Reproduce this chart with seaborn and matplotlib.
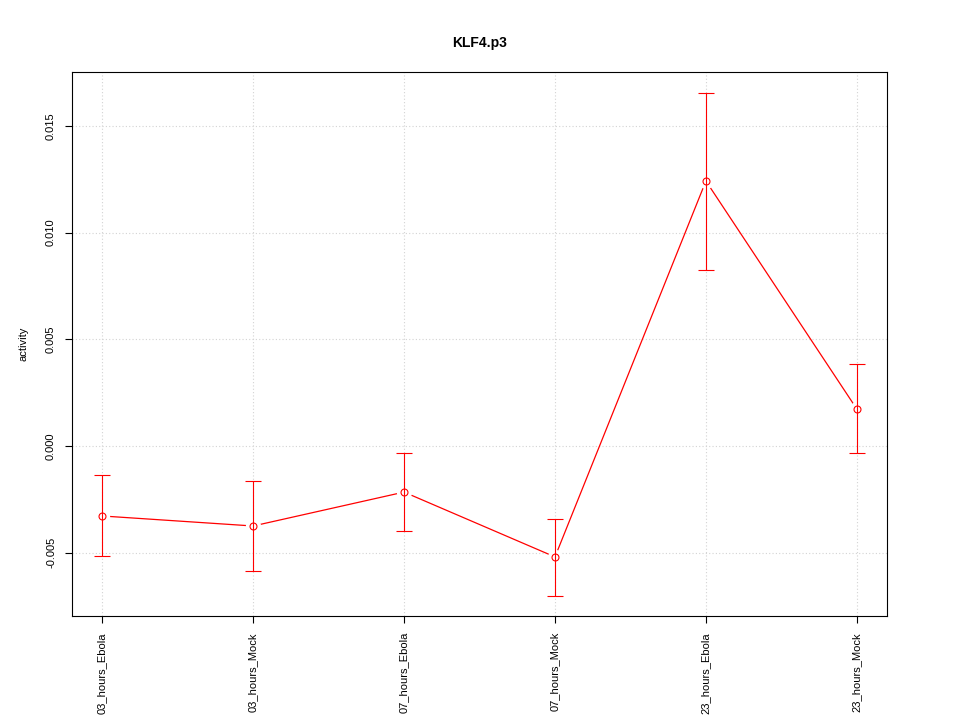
import numpy as np
import pandas as pd
import seaborn as sns
import matplotlib
matplotlib.use("Agg")
import matplotlib.pyplot as plt

# Values
conditions = ["03_hours_Ebola", "03_hours_Mock", "07_hours_Ebola",
              "07_hours_Mock", "23_hours_Ebola", "23_hours_Mock"]
activity = [-0.00328, -0.00375, -0.00216, -0.00520, 0.01242, 0.00173]
err_upper = [-0.00136, -0.00162, -0.00031, -0.00340, 0.01655, 0.00385]
err_lower = [-0.00515, -0.00587, -0.00398, -0.00703, 0.00823, -0.00031]

df = pd.DataFrame({"pos": np.arange(1, len(conditions) + 1),
                   "activity": activity,
                   "upper": err_upper,
                   "lower": err_lower})

sns.set_style("white")
plt.rcParams["font.family"] = ["Liberation Sans", "DejaVu Sans"]
plt.rcParams.update({"text.color": "black", "axes.labelcolor": "black",
                     "xtick.color": "black", "ytick.color": "black"})

fig = plt.figure(figsize=(9.6, 7.2), dpi=100)
ax = fig.add_axes([0.075, 0.1444, 0.849, 0.7556])

# dotted grid like R's grid()
for xv in df["pos"]:
    ax.axvline(xv, color="#d3d3d3", linestyle=(0, (1, 2)), linewidth=0.8, zorder=0)
for yv in [-0.005, 0.0, 0.005, 0.010, 0.015]:
    ax.axhline(yv, color="#d3d3d3", linestyle=(0, (1, 2)), linewidth=0.8, zorder=0)

# connecting line (type "b": small gap around each point)
sns.lineplot(data=df, x="pos", y="activity", color="red", linewidth=0.9, ax=ax, zorder=2)
ax.plot(df["pos"], df["activity"], linestyle="none", marker="o", markersize=10,
        markerfacecolor="white", markeredgecolor="white", zorder=3)
ax.plot(df["pos"], df["activity"], linestyle="none", marker="o", markersize=5,
        markerfacecolor="none", markeredgecolor="red", markeredgewidth=0.8, zorder=5)

yerr = np.array([df["activity"] - df["lower"], df["upper"] - df["activity"]])
ax.errorbar(df["pos"], df["activity"], yerr=yerr, fmt="none", ecolor="red",
            elinewidth=0.8, capsize=5.5, capthick=0.8, zorder=4)

ax.set_xlim(0.8, 6.2)
ax.set_ylim(-0.00797, 0.01753)
ax.set_xticks(df["pos"])
ax.set_xticklabels(conditions, rotation=90, fontsize=8)
ax.set_yticks([-0.005, 0.0, 0.005, 0.010, 0.015])
ax.set_yticklabels(["-0.005", "0.000", "0.005", "0.010", "0.015"],
                   rotation=90, va="center", fontsize=8)
ax.tick_params(axis="both", direction="out", length=5, width=0.8, pad=6.5,
               bottom=True, left=True, color="black", labelcolor="black")
for s in ax.spines.values():
    s.set_color("black")
    s.set_linewidth(0.8)

ax.set_xlabel("")
ax.set_ylabel("activity", fontsize=8)
ax.yaxis.set_label_coords(-0.053, 0.5)
ax.set_title("KLF4.p3", fontsize=10, fontweight="bold", pad=18)

fig.savefig("out.png", dpi=100)
